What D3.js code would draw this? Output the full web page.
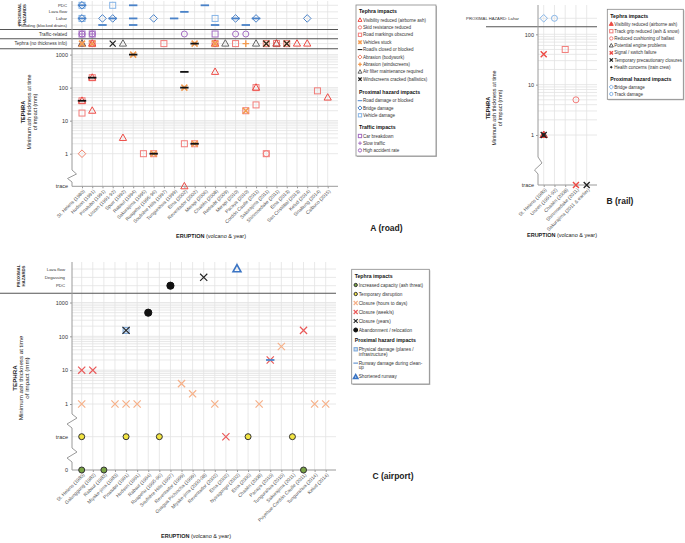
<!DOCTYPE html>
<html><head><meta charset="utf-8">
<script src="https://cdn.jsdelivr.net/npm/d3@7"></script>
<style>body{margin:0;background:#fff}svg{display:block;font-family:"Liberation Sans",Arial,Helvetica,sans-serif}</style>
</head><body><svg id="c" width="685" height="543"></svg>
<script>
// ================= DATA =================
const roadCats = ["St. Helens (1980)","Hudson (1991)","Pinatubo (1991)","Unzen (1991-92)","Spurr (1992)","Rabaul (1994)","Sakurajima (1995)","Ruapehu (1995-96)","Soufrière Hills (1997)","Tungurahua (1999)","Etna (2002)","Reventador (2002)","Merapi (2006)","Chaitén (2008)","Redoubt (2009)","Merapi (2010)","Pacaya (2010)","Cordón Caulle (2011)","Sakurajima (2011)","Shinmoedake (2011)","Etna (2013)","San Cristóbal (2013)","Kelud (2014)","Sinabung (2014)","Calbuco (2015)"];
const roadProxRows = ["PDC","Lava flow","Lahar","Flooding (blocked drains)"];
const roadProximal = [
 ["St. Helens (1980)","PDC","vehicle"],["St. Helens (1980)","PDC","bridge"],["St. Helens (1980)","PDC","roadDmg"],
 ["Unzen (1991-92)","PDC","vehicle"],["Rabaul (1994)","PDC","roadDmg"],["Merapi (2006)","PDC","roadDmg"],
 ["Etna (2002)","Lava flow","roadDmg"],
 ["St. Helens (1980)","Lahar","vehicle"],["St. Helens (1980)","Lahar","bridge"],["St. Helens (1980)","Lahar","roadDmg"],
 ["Pinatubo (1991)","Lahar","bridge"],["Unzen (1991-92)","Lahar","bridge"],["Unzen (1991-92)","Lahar","roadDmg"],
 ["Rabaul (1994)","Lahar","roadDmg"],["Ruapehu (1995-96)","Lahar","bridge"],["Tungurahua (1999)","Lahar","roadDmg"],
 ["Chaitén (2008)","Lahar","vehicle"],["Merapi (2010)","Lahar","bridge"],["Merapi (2010)","Lahar","roadDmg"],
 ["Cordón Caulle (2011)","Lahar","bridge"],["Cordón Caulle (2011)","Lahar","roadDmg"],["Kelud (2014)","Lahar","bridge"],
 ["Pinatubo (1991)","Flooding (blocked drains)","roadDmg"],["Rabaul (1994)","Flooding (blocked drains)","roadDmg"],
 ["Chaitén (2008)","Flooding (blocked drains)","roadDmg"],["Pacaya (2010)","Flooding (blocked drains)","roadDmg"]
];
const roadTraffic = [
 ["St. Helens (1980)","car"],["St. Helens (1980)","slow"],["St. Helens (1980)","accident"],
 ["Hudson (1991)","car"],["Hudson (1991)","slow"],["Hudson (1991)","accident"],
 ["Etna (2002)","accident"],["Chaitén (2008)","car"],["Merapi (2010)","accident"],["Pacaya (2010)","accident"]
];
const roadTephraNoInfo = [
 ["St. Helens (1980)","vis"],["St. Helens (1980)","filter"],["St. Helens (1980)","stuck"],
 ["Hudson (1991)","mark"],["Hudson (1991)","stuck"],["Hudson (1991)","vis"],
 ["Unzen (1991-92)","crack"],["Spurr (1992)","filter"],["Soufrière Hills (1997)","mark"],
 ["Reventador (2002)","stuck"],["Reventador (2002)","closed"],
 ["Chaitén (2008)","mark"],["Chaitén (2008)","vis"],["Chaitén (2008)","stuck"],
 ["Redoubt (2009)","filter"],["Merapi (2010)","mark"],["Pacaya (2010)","abrWind"],["Cordón Caulle (2011)","filter"],
 ["Sakurajima (2011)","mark"],["Sakurajima (2011)","stuck"],["Sakurajima (2011)","crack"],
 ["Shinmoedake (2011)","mark"],["Shinmoedake (2011)","filter"],["Shinmoedake (2011)","vis"],
 ["Etna (2013)","mark"],["Etna (2013)","stuck"],["Etna (2013)","crack"],
 ["San Cristóbal (2013)","vis"],["Kelud (2014)","vis"]
];
const roadTephra = [
 ["St. Helens (1980)",40,"mark"],["St. Helens (1980)",40,"vis"],["St. Helens (1980)",40,"closed"],
 ["St. Helens (1980)",17,"mark"],["St. Helens (1980)",1,"abrBody"],
 ["Hudson (1991)",200,"mark"],["Hudson (1991)",200,"vis"],["Hudson (1991)",200,"closed"],["Hudson (1991)",20,"vis"],
 ["Spurr (1992)",3,"vis"],
 ["Rabaul (1994)",1000,"stuck"],["Rabaul (1994)",1000,"closed"],
 ["Sakurajima (1995)",1,"mark"],
 ["Ruapehu (1995-96)",1,"mark"],["Ruapehu (1995-96)",1,"stuck"],["Ruapehu (1995-96)",1,"closed"],
 ["Etna (2002)",300,"closed"],["Etna (2002)",100,"stuck"],["Etna (2002)",100,"closed"],["Etna (2002)",2,"mark"],["Etna (2002)","trace","vis"],
 ["Reventador (2002)",2,"mark"],["Reventador (2002)",2,"stuck"],["Reventador (2002)",2,"closed"],
 ["Chaitén (2008)",300,"vis"],
 ["Pacaya (2010)",20,"mark"],["Pacaya (2010)",20,"stuck"],
 ["Cordón Caulle (2011)",100,"mark"],["Cordón Caulle (2011)",100,"vis"],["Cordón Caulle (2011)",30,"mark"],
 ["Sakurajima (2011)",1,"mark"],["Sakurajima (2011)",1,"skid"],
 ["Sinabung (2014)",80,"mark"],["Calbuco (2015)",50,"vis"]
];
const yTicksLog = [1,10,100,1000];

const railCats = ["St. Helens (1980)","Unzen (1991-92)","Chaitén (2008)","Shinmoedake (2011)","Sakurajima (2011 & earlier)"];
const railProximal = [["St. Helens (1980)","rbridge"],["Unzen (1991-92)","track"]];
const railTephra = [
 ["St. Helens (1980)",40,"signal"],
 ["St. Helens (1980)",1,"engine"],["St. Helens (1980)",1,"rvis"],["St. Helens (1980)",1,"closure"],["St. Helens (1980)",1,"health"],
 ["Chaitén (2008)",50,"grip"],["Shinmoedake (2011)",5,"ballast"],
 ["Shinmoedake (2011)","trace","signal"],["Sakurajima (2011 & earlier)","trace","closure"]
];
const railTicks = [1,10,100];

const airCats = ["St. Helens (1980)","Galunggung (1982)","Rabaul (1983)","Miyake-jima (1983)","Pinatubo (1991)","Hudson (1991)","Rabaul (1994)","Ruapehu (1995-96)","Soufrière Hills (1997)","Reventador (1999)","Guagua Pichincha (1999)","Miyake-jima (2000-08)","Reventador (2002)","Etna (2002)","Nyiragongo (2002)","Etna (2006)","Chaitén (2008)","Pacaya (2010)","Tungurahua (2010)","Sakurajima (2011)","Puyehue-Cordón Caulle (2011)","Tungurahua (2014)","Kelud (2014)"];
const airProxRows = ["Lava flow","Degassing","PDC"];
const airProximal = [
 ["Nyiragongo (2002)","Lava flow","short"],["Miyake-jima (2000-08)","Degassing","closureYrs"],["Soufrière Hills (1997)","PDC","abandon"]
];
const airTephra = [
 ["Rabaul (1994)",500,"abandon"],
 ["Pinatubo (1991)",150,"phys"],["Pinatubo (1991)",150,"closureYrs"],
 ["Puyehue-Cordón Caulle (2011)",150,"closureWks"],
 ["Tungurahua (2010)",50,"closureHrs"],
 ["Pacaya (2010)",20,"closureWks"],["Pacaya (2010)",20,"runway"],
 ["St. Helens (1980)",10,"closureWks"],["Galunggung (1982)",10,"closureWks"],
 ["Reventador (1999)",4,"closureHrs"],["Guagua Pichincha (1999)",2,"closureHrs"],
 ["St. Helens (1980)",1,"closureHrs"],["Miyake-jima (1983)",1,"closureHrs"],["Pinatubo (1991)",1,"closureHrs"],
 ["Hudson (1991)",1,"closureHrs"],["Reventador (2002)",1,"closureHrs"],["Chaitén (2008)",1,"closureHrs"],
 ["Tungurahua (2014)",1,"closureHrs"],["Kelud (2014)",1,"closureHrs"],
 ["St. Helens (1980)","trace","disruption"],["Pinatubo (1991)","trace","disruption"],["Ruapehu (1995-96)","trace","disruption"],
 ["Etna (2002)","trace","closureWks"],["Etna (2006)","trace","disruption"],["Sakurajima (2011)","trace","disruption"],
 ["St. Helens (1980)",0,"capacity"],["Rabaul (1983)",0,"capacity"],["Puyehue-Cordón Caulle (2011)",0,"capacity"]
];

const legendRoad = [
 {title:"Tephra impacts", items:[["Visibility reduced (airborne ash)","vis"],["Skid resistance reduced","skid"],["Road markings obscured","mark"],["Vehicles stuck","stuck"],["Road/s closed or blocked","closed"],["Abrasion (bodywork)","abrBody"],["Abrasion (windscreens)","abrWind"],["Air filter maintenance required","filter"],["Windscreens cracked (ballistics)","crack"]]},
 {title:"Proximal hazard impacts", items:[["Road damage or blocked","roadDmg"],["Bridge damage","bridge"],["Vehicle damage","vehicle"]]},
 {title:"Traffic impacts", items:[["Car breakdown","car"],["Slow traffic","slow"],["High accident rate","accident"]]}
];
const legendRail = [
 {title:"Tephra impacts", items:[["Visibility reduced (airborne ash)","rvis"],["Track grip reduced (ash & snow)","grip"],["Reduced cushioning of ballast","ballast"],["Potential engine problems","engine"],["Signal / switch failure","signal"],["Temporary precautionary closures","closure"],["Health concerns (train crew)","health"]]},
 {title:"Proximal hazard impacts", items:[["Bridge damage","rbridge"],["Track damage","track"]]}
];
const legendAir = [
 {title:"Tephra impacts", items:[["Increased capacity (ash threat)","capacity"],["Temporary disruption","disruption"],["Closure (hours to days)","closureHrs"],["Closure (week/s)","closureWks"],["Closure (years)","closureYrs"],["Abandonment / relocation","abandon"]]},
 {title:"Proximal hazard impacts", items:[["Physical damage (planes /|infrastructure)","phys"],["Runway damage during clean-|up","runway"],["Shortened runway","short"]]}
];

// ================= STYLES =================
const RED="#ec4a44", PINK="#f27d7a", ORANGE="#f39a4e", LORANGE="#f6b088", BLUE="#4a82c8", LBLUE="#86b4e6", PURPLE="#a36cc2";
const STYLE = {
 vis:{shape:"tri",stroke:RED}, skid:{shape:"circ",stroke:PINK}, mark:{shape:"sq",stroke:PINK},
 stuck:{shape:"x",stroke:ORANGE,sw:1.6}, closed:{shape:"dash",fill:"#111"}, abrBody:{shape:"dia",stroke:"#f0826a"},
 abrWind:{shape:"plus",stroke:ORANGE,sw:1.4}, filter:{shape:"tri",stroke:"#666"}, crack:{shape:"x",stroke:"#222",sw:1.3},
 roadDmg:{shape:"dash",fill:BLUE}, bridge:{shape:"dia",stroke:BLUE}, vehicle:{shape:"sq",stroke:LBLUE},
 car:{shape:"sq",stroke:PURPLE}, slow:{shape:"plus",stroke:PURPLE}, accident:{shape:"circ",stroke:PURPLE},
 rvis:{shape:"tri",stroke:RED,fill:RED}, grip:{shape:"sq",stroke:PINK}, ballast:{shape:"circ",stroke:PINK},
 engine:{shape:"tri",stroke:"#555"}, signal:{shape:"x",stroke:RED,sw:1.4}, closure:{shape:"x",stroke:"#222",sw:1.3},
 health:{shape:"dot",fill:"#222",stroke:"#222",r:1.4}, rbridge:{shape:"dia",stroke:LBLUE}, track:{shape:"circ",stroke:LBLUE},
 capacity:{shape:"dot",fill:"#7aa445",stroke:"#333",r:3}, disruption:{shape:"dot",fill:"#f2e442",stroke:"#333",r:3},
 closureHrs:{shape:"x",stroke:LORANGE,sw:1.2,s:1.2}, closureWks:{shape:"x",stroke:"#e95a5a",sw:1.2,s:1.2},
 closureYrs:{shape:"x",stroke:"#222",sw:1.1,s:1.2}, abandon:{shape:"dot",fill:"#111",stroke:"#111",r:3.6},
 phys:{shape:"sq",stroke:"#7aa6d8",fill:"#cfe0f2"}, runway:{shape:"dash",fill:BLUE}, short:{shape:"tri",stroke:"#3a74c4",sw:1.6,s:1.1}
};

// ================= DRAW =================
const svg = d3.select("#c");
svg.append("rect").attr("width",685).attr("height",543).attr("fill","#fff");
const GRID="#e2e2e2", AX="#9a9a9a", TXT="#333";

function sym(g, type, x, y, k=1){
  const st = STYLE[type]; const s = k*(st.s||1); let el;
  switch(st.shape){
    case "tri": el=g.append("path").attr("d",`M${x},${y-3.9*s}L${x+3.6*s},${y+2.5*s}L${x-3.6*s},${y+2.5*s}Z`); break;
    case "sq": el=g.append("rect").attr("x",x-3*s).attr("y",y-3*s).attr("width",6*s).attr("height",6*s); break;
    case "circ": el=g.append("circle").attr("cx",x).attr("cy",y).attr("r",3*s); break;
    case "dia": el=g.append("path").attr("d",`M${x},${y-3.8*s}L${x+3.8*s},${y}L${x},${y+3.8*s}L${x-3.8*s},${y}Z`); break;
    case "plus": el=g.append("path").attr("d",`M${x-3.3*s},${y}H${x+3.3*s}M${x},${y-3.3*s}V${y+3.3*s}`); break;
    case "x": el=g.append("path").attr("d",`M${x-3*s},${y-3*s}L${x+3*s},${y+3*s}M${x+3*s},${y-3*s}L${x-3*s},${y+3*s}`); break;
    case "dash": el=g.append("rect").attr("x",x-4.2*s).attr("y",y-0.9*s).attr("width",8.4*s).attr("height",1.8*s); break;
    case "dot": el=g.append("circle").attr("cx",x).attr("cy",y).attr("r",(st.r||3)*k); break;
  }
  el.attr("fill",st.fill||"none").attr("stroke",st.shape==="dash"?"none":(st.stroke||"none")).attr("stroke-width",st.sw||1);
}
function text(g,x,y,str,o={}){
  const t=g.append("text").attr("x",x).attr("y",y).attr("font-size",o.fs||5).style("fill",o.fill||TXT)
   .attr("text-anchor",o.anchor||"start").attr("dominant-baseline","central").attr("font-weight",o.bold?"bold":null);
  if(o.rot) t.attr("transform",`rotate(${o.rot},${x},${y})`);
  t.text(str); return t;
}
function vTitle(g,x,y,lines,fs){
  lines.forEach((l,i)=>text(g,x+i*6,y,l.t,{fs,anchor:"middle",rot:-90,bold:l.b,fill:"#222"}));
}
function xTitle(g,x,y,fs){
  const t=g.append("text").attr("x",x).attr("y",y).attr("font-size",fs).attr("text-anchor","middle").style("fill","#222");
  t.append("tspan").attr("font-weight","bold").text("ERUPTION");
  t.append("tspan").text(" (volcano & year)");
}
function catAxis(g,x,y0){
  const ax=g.append("g").attr("transform",`translate(0,${y0})`).call(d3.axisBottom(x).tickSize(2).tickSizeOuter(0));
  ax.select(".domain").remove();
  ax.selectAll(".tick line").attr("stroke",AX);
  ax.selectAll(".tick text").attr("font-size",4.8).style("fill","#555").attr("font-family",null)
    .attr("text-anchor","end").attr("dy","0.35em").attr("y",0)
    .attr("transform","translate(1.5,4) rotate(-45)");
}
function logGrid(g,y,x0,x1){
  g.append("g").selectAll("line").data(y.ticks()).join("line")
   .attr("x1",x0).attr("x2",x1).attr("y1",d=>y(d)).attr("y2",d=>y(d)).attr("stroke",GRID).attr("stroke-width",0.8);
}
function vGrid(g,x,cats,y0,y1){
  g.append("g").selectAll("line").data(cats).join("line")
   .attr("x1",d=>x(d)).attr("x2",d=>x(d)).attr("y1",y0).attr("y2",y1).attr("stroke",GRID).attr("stroke-width",0.8);
}
function yLabels(g,y,ticks,xAx){
  const ax=g.append("g").attr("transform",`translate(${xAx},0)`).call(d3.axisLeft(y).tickValues(ticks).tickFormat(d3.format("d")).tickSize(2));
  ax.select(".domain").remove();
  ax.selectAll(".tick line").attr("stroke",AX);
  ax.selectAll(".tick text").attr("font-size",5.5).style("fill",TXT).attr("font-family",null).attr("x",-4);
}
function legend(g,x,y,w,h,sections,pos){
  g.append("rect").attr("x",x+1).attr("y",y+1).attr("width",w).attr("height",h).attr("fill","#bbb");
  g.append("rect").attr("x",x).attr("y",y).attr("width",w).attr("height",h).attr("fill","#fff").attr("stroke","#888").attr("stroke-width",0.8);
  sections.forEach((sec,si)=>{
    const p=pos[si];
    text(g,x+3,p.t,sec.title,{fs:5.2,bold:true,fill:"#111"});
    let yy=p.i;
    sec.items.forEach(([lab,type])=>{
      sym(g,type,x+4,yy,0.55);
      const parts=lab.split("|");
      parts.forEach((pt,j)=>text(g,x+7,yy+j*4.8,pt,{fs:p.fs||4.5,fill:"#333"}));
      yy+=p.step+(parts.length-1)*4.8;
    });
  });
}
const yOf=(y,traceY,zeroY)=>v=> v==="trace"?traceY:(v===0?zeroY:y(v));

// ---------- Panel A (road) ----------
const gA=svg.append("g");
const xA=d3.scalePoint().domain(roadCats).range([82,327.7]);
const yA=d3.scaleLog().domain([1,1000]).range([153.7,54.6]);
const traceA=186.3;
const yProxA=d3.scalePoint().domain(roadProxRows).range([5.3,25]);
const yTrafA=34, yNoInfoA=43.6;
vGrid(gA,xA,roadCats,1,traceA);
logGrid(gA,yA,72,338);
gA.append("g").selectAll("line").data([...roadProxRows.map(r=>yProxA(r)),yTrafA,yNoInfoA]).join("line")
  .attr("x1",72).attr("x2",338).attr("y1",d=>d).attr("y2",d=>d).attr("stroke",GRID).attr("stroke-width",0.8);
[29.5,38.8,48.8].forEach(yy=>gA.append("line").attr("x1",0).attr("x2",338).attr("y1",yy).attr("y2",yy).attr("stroke","#555").attr("stroke-width",1.1));
gA.append("path").attr("d",`M72,1V170L76.5,174L67.5,178.5L72,182V${traceA}H338`).attr("fill","none").attr("stroke",AX).attr("stroke-width",1);
yLabels(gA,yA,yTicksLog,72);
text(gA,68,traceA,"trace",{fs:5.5,anchor:"end"});
roadProxRows.forEach(r=>text(gA,67,yProxA(r),r,{fs:4.3,anchor:"end"}));
text(gA,67,yTrafA,"Traffic-related",{fs:4.6,anchor:"end"});
text(gA,67,yNoInfoA,"Tephra (no thickness info)",{fs:4.6,anchor:"end"});
text(gA,19,14.5,"PROXIMAL",{fs:4.3,bold:true,anchor:"middle",rot:-90});
text(gA,24.5,14.5,"HAZARDS",{fs:4.3,bold:true,anchor:"middle",rot:-90});
vTitle(gA,23,112,[{t:"TEPHRA",b:true},{t:"Minimum ash thickness at time"},{t:"of impact (mm)"}],5.5);
catAxis(gA,xA,traceA);
xTitle(gA,211,238,5.5);
roadProximal.forEach(([c,r,t])=>sym(gA,t,xA(c),yProxA(r)));
roadTraffic.forEach(([c,t])=>sym(gA,t,xA(c),yTrafA));
roadTephraNoInfo.forEach(([c,t])=>sym(gA,t,xA(c),yNoInfoA));
const fA=yOf(yA,traceA,traceA);
roadTephra.forEach(([c,v,t])=>sym(gA,t,xA(c),fA(v)));
legend(gA,356,5,80,151,legendRoad,[{t:10.7,i:20,step:7.4},{t:92.3,i:100.7,step:7.3},{t:127.3,i:136,step:7.2}]);
text(gA,386.5,228,"A (road)",{fs:8.5,bold:true,anchor:"middle",fill:"#222"});

// ---------- Panel B (rail) ----------
const gB=svg.append("g");
const xB=d3.scalePoint().domain(railCats).range([543.7,586.7]);
const yB=d3.scaleLog().domain([1,100]).range([135,34.3]);
const traceB=185, laharB=18.3;
vGrid(gB,xB,railCats,5,traceB);
logGrid(gB,yB,538,597);
gB.append("line").attr("x1",538).attr("x2",597).attr("y1",laharB).attr("y2",laharB).attr("stroke",GRID).attr("stroke-width",0.8);
gB.append("line").attr("x1",486).attr("x2",597).attr("y1",26.7).attr("y2",26.7).attr("stroke","#555").attr("stroke-width",1.1);
gB.append("path").attr("d",`M538,5V157L542,163L534.5,170L538,174V${traceB}H597`).attr("fill","none").attr("stroke",AX).attr("stroke-width",1);
yLabels(gB,yB,railTicks,538);
text(gB,534,traceB,"trace",{fs:5.5,anchor:"end"});
text(gB,519,laharB,"PROXIMAL HAZARD: Lahar",{fs:4.2,anchor:"end"});
vTitle(gB,488,108,[{t:"TEPHRA",b:true},{t:"Minimum ash thickness at time"},{t:"of impact (mm)"}],5.5);
catAxis(gB,xB,traceB);
xTitle(gB,562,237,5.5);
railProximal.forEach(([c,t])=>sym(gB,t,xB(c),laharB));
const fB=yOf(yB,traceB,traceB);
railTephra.forEach(([c,v,t])=>sym(gB,t,xB(c),fB(v)));
legend(gB,607.3,9.3,76,90,legendRail,[{t:15.7,i:24,step:7.2},{t:79.3,i:87,step:7}]);
text(gB,620,201,"B (rail)",{fs:8.5,bold:true,anchor:"middle",fill:"#222"});

// ---------- Panel C (airport) ----------
const gC=svg.append("g");
const xC=d3.scalePoint().domain(airCats).range([81.7,325.7]);
const yC=d3.scaleLog().domain([1,1000]).range([404,302.5]);
const traceC=436.7, zeroC=470;
const yProxC=d3.scalePoint().domain(airProxRows).range([269,285.7]);
vGrid(gC,xC,airCats,262,zeroC);
logGrid(gC,yC,72,336);
gC.append("g").selectAll("line").data([...airProxRows.map(r=>yProxC(r)),traceC]).join("line")
  .attr("x1",72).attr("x2",336).attr("y1",d=>d).attr("y2",d=>d).attr("stroke",GRID).attr("stroke-width",0.8);
gC.append("line").attr("x1",0).attr("x2",336).attr("y1",293.3).attr("y2",293.3).attr("stroke","#555").attr("stroke-width",1.1);
gC.append("path").attr("d",`M72,262V414L77,418L67,424L72,428V448L77,452L67,458L72,462V${zeroC}H336`).attr("fill","none").attr("stroke",AX).attr("stroke-width",1);
yLabels(gC,yC,yTicksLog,72);
text(gC,68,traceC,"trace",{fs:5.5,anchor:"end"});
text(gC,68,zeroC,"0",{fs:5.5,anchor:"end"});
airProxRows.forEach(r=>text(gC,65,yProxC(r),r,{fs:4.3,anchor:"end"}));
text(gC,18,276,"PROXIMAL",{fs:4.3,bold:true,anchor:"middle",rot:-90});
text(gC,23.5,276,"HAZARDS",{fs:4.3,bold:true,anchor:"middle",rot:-90});
vTitle(gC,14,378,[{t:"TEPHRA",b:true},{t:"Minimum ash thickness at time"},{t:"of impact (mm)"}],6.2);
catAxis(gC,xC,zeroC);
xTitle(gC,196,538,5.5);
airProximal.forEach(([c,r,t])=>sym(gC,t,xC(c),yProxC(r)));
const fC=yOf(yC,traceC,zeroC);
airTephra.forEach(([c,v,t])=>sym(gC,t,xC(c),fC(v)));
legend(gC,351.7,269.3,77.6,114.7,legendAir,[{t:275.7,i:285,step:9,fs:4.7},{t:340,i:349.3,step:9,fs:4.7}]);
text(gC,393,476,"C (airport)",{fs:8.5,bold:true,anchor:"middle",fill:"#222"});
</script></body></html>
